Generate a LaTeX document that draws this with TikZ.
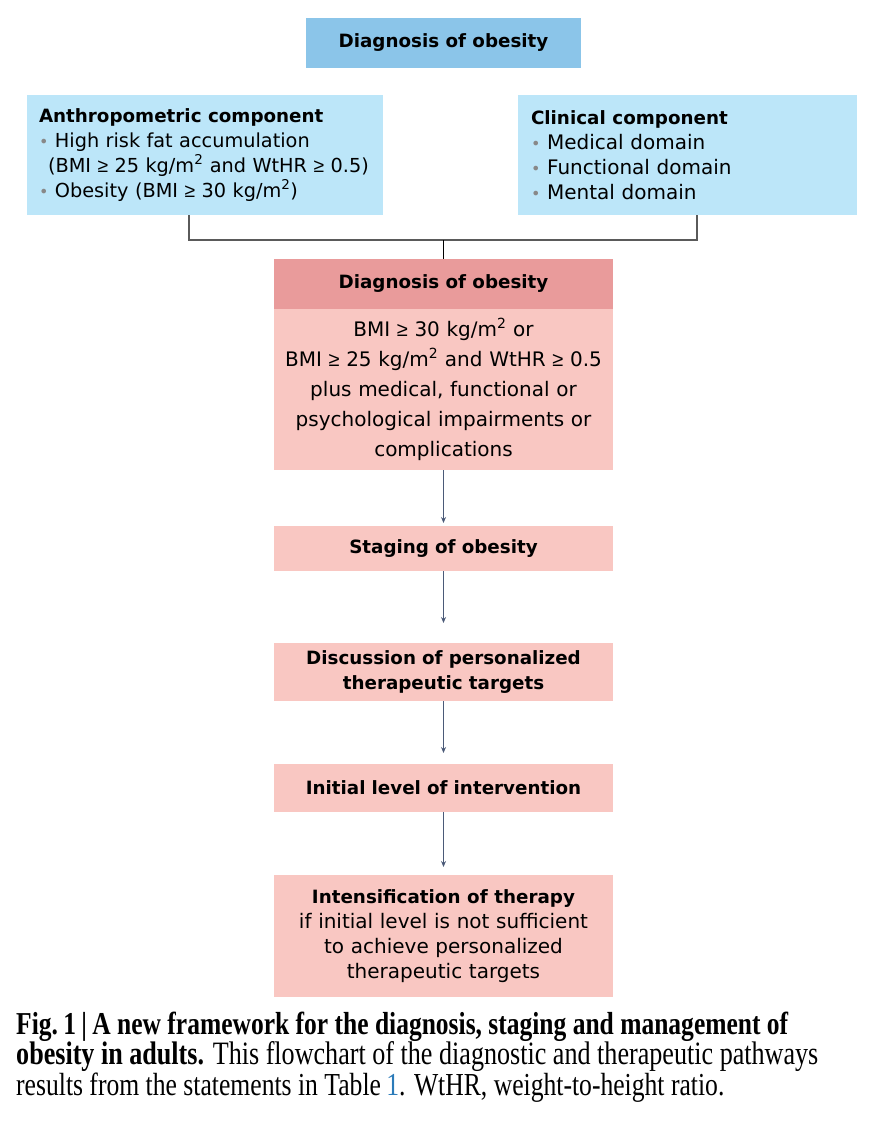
\documentclass[tikz,border=0pt]{standalone}
\usepackage{fontspec}
\usepackage{graphicx}
\setmainfont{DejaVu Sans}
\newfontfamily\capfont[FakeStretch=0.8]{Liberation Serif}
\newfontfamily\symfont{Liberation Sans}
\usetikzlibrary{positioning,arrows.meta}

\definecolor{headblue}{HTML}{8BC5E9}
\definecolor{compblue}{HTML}{BCE6F9}
\definecolor{headpink}{HTML}{E99B9B}
\definecolor{bodypink}{HTML}{F9C7C2}
\definecolor{arrowgrey}{HTML}{4B5A78}
\definecolor{treegrey}{HTML}{5A5A5A}
\definecolor{dotgrey}{HTML}{888888}
\definecolor{refblue}{HTML}{2B7BB9}

\newcommand{\bsz}{\bfseries\fontsize{18.3}{25}\selectfont}
\newcommand{\rsz}{\fontsize{20}{25}\selectfont}
\newcommand{\gtq}{{\symfont ≥}}
\newcommand{\sqm}{kg/m\textsuperscript{2}}
\newcommand{\bul}{{\color{dotgrey}\fontsize{16}{16}\selectfont •}\ }

\begin{document}
\begin{tikzpicture}[
            x=1pt, y=1pt,
            topbox/.style={rectangle, fill=headblue, minimum width=275pt, minimum height=50pt, outer sep=0pt, font=\bsz},
            compbox/.style={rectangle, fill=compblue, minimum height=120pt, align=left, inner ysep=0pt, outer sep=0pt, font=\rsz},
            headbox/.style={rectangle, fill=headpink, minimum width=339pt, minimum height=50pt, outer sep=0pt, font=\bsz},
            stepbox/.style={rectangle, fill=bodypink, minimum width=339pt, text width=339pt, inner sep=0pt, outer sep=0pt, text centered, font=\bsz},
            tree/.style={treegrey, line width=1.2pt},
            stem/.style={black, line width=1pt},
            arrow/.style={-{Stealth[length=6pt, width=5pt]}, arrowgrey, line width=1.6pt}
            ]
            \useasboundingbox (0,0) rectangle (884,-1126);

            % Top box
            \node[topbox] (top) at (443.5,-43) {Diagnosis of obesity};

            % Components
            \node[compbox, minimum width=356pt, text width=332pt, inner xsep=12pt, font=\fontsize{19.3}{25}\selectfont] (anthro) at (205,-155) {%
                {\bsz Anthropometric component}\\
                \mbox{\bul High risk fat accumulation}\\
                \mbox{\hspace*{9pt}(BMI \gtq{} 25 \sqm{} and WtHR \gtq{} 0.5)}\\
                \mbox{\bul Obesity (BMI \gtq{} 30 \sqm)}};
            \node[compbox, minimum width=339pt, text width=313pt, inner xsep=13pt] (clinic) at (687.5,-155) {%
                {\bsz Clinical component}\\
                \bul Medical domain\\
                \bul Functional domain\\
                \bul Mental domain};
            \coordinate (join) at (443.5,-240);

            % Diagnosis
            \node[headbox] (diaghead) at (443.5,-284) {Diagnosis of obesity};
            \node[stepbox, below=0pt of diaghead, minimum height=161pt, font=\fontsize{20}{30}\selectfont] (diagbody) {%
                BMI \gtq{} 30 \sqm{} or\\
                BMI \gtq{} 25 \sqm{} and WtHR \gtq{} 0.5\\
                plus medical, functional or\\
                psychological impairments or\\
                complications};

            % Pathway
            \node[stepbox, below=56pt of diagbody, minimum height=45pt] (staging) {Staging of obesity};
            \node[stepbox, below=72pt of staging, minimum height=58pt] (discuss) {Discussion of personalized\\therapeutic targets};
            \node[stepbox, below=63pt of discuss, minimum height=48pt] (initial) {Initial level of intervention};
            \node[stepbox, below=63pt of initial, minimum height=122pt, font=\rsz] (intens) {%
                {\bsz Intensification of therapy}\\
                if initial level is not sufficient\\
                to achieve personalized\\
                therapeutic targets};

            % Connectors
            \draw[tree] ([xshift=-16pt]anthro.south) |- (join) -| ([xshift=9.5pt]clinic.south);
            \draw[stem] (join) -- (diaghead.north);
            \draw[arrow, shorten >=3pt] (diagbody.south) -- (staging.north);
            \draw[arrow, shorten >=20pt] (staging.south) -- (discuss.north);
            \draw[arrow, shorten >=11pt] (discuss.south) -- (initial.north);
            \draw[arrow, shorten >=8pt] (initial.south) -- (intens.north);

            % Caption
            \node[anchor=base west, inner sep=0pt] (cap1) at (16,-1034) {\resizebox{772pt}{!}{\capfont\bfseries Fig.\,1\,|\,A new framework for the diagnosis, staging and management of}};
            \node[anchor=base west, inner sep=0pt] (cap2) at (16,-1064) {\resizebox{802pt}{!}{\capfont\textbf{obesity in adults.} This flowchart of the diagnostic and therapeutic pathways}};
            \node[anchor=base west, inner sep=0pt] (cap3) at (16,-1095) {\resizebox{708pt}{!}{\capfont results from the statements in Table\,\textcolor{refblue}{1}. WtHR, weight-to-height ratio.}};

        \end{tikzpicture}
\end{document}
